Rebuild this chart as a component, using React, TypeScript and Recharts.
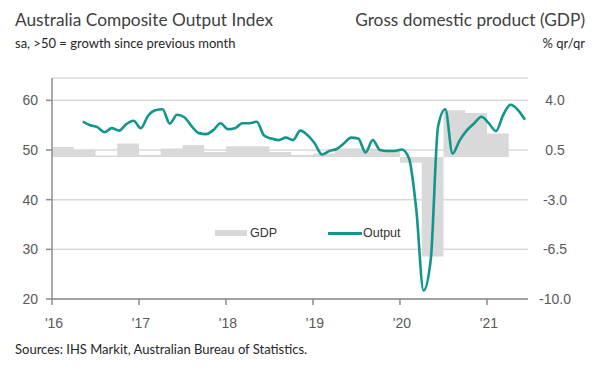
import React from 'react';
import { ComposedChart, Line, Area, XAxis, YAxis, CartesianGrid } from 'recharts';

// ---- data ----
const yearLabels = ["'16", "'17", "'18", "'19", "'20", "'21"];
const yearTickMonths = [0, 12, 24, 36, 48, 60]; // months since Jan 2016
const leftTicks = [20, 30, 40, 50, 60];
const rightTicks = [-10, -6.5, -3, 0.5, 4];

// GDP % q/q, 2016 Q1 .. 2021 Q1
const gdpQuarterly = [
  0.7, 0.5, 0.1, 0.95,
  0.15, 0.6, 0.85, 0.35,
  0.75, 0.75, 0.35, 0.15,
  0.25, 0.6, 0.6, 0.55,
  -0.4, -7.0, 3.3, 3.1,
  1.65,
];

// Composite Output Index, monthly, May 2016 .. Jun 2021
const outputStartMonth = 4;
const outputMonthly = [
  55.7, 55.0, 54.6, 53.6, 54.4, 53.9, 55.2, 55.9,
  54.4, 56.9, 58.0, 58.2, 55.3, 57.1, 56.6, 54.8, 53.4, 53.2, 54.0, 55.4,
  54.2, 54.4, 55.4, 55.4, 55.7, 52.9, 52.3, 52.0, 52.5, 52.0, 53.9, 53.0,
  51.3, 49.1, 49.8, 50.2, 51.3, 52.5, 52.3, 49.5, 52.0, 50.0, 49.8, 49.8,
  50.1, 48.3, 38.0, 21.7, 28.0, 54.7, 58.2, 49.3, 52.0, 54.0, 55.4, 56.7,
  55.4, 53.8, 57.1, 59.1, 58.1, 56.1,
];

const lastMonth = outputStartMonth + outputMonthly.length - 1;
const gdpEnd = gdpQuarterly.length * 3;

type Row = { t: number; gdp?: number; output?: number };
const rows: Row[] = [];
for (let q = 0; q <= gdpQuarterly.length; q++) {
  rows.push({ t: q * 3, gdp: gdpQuarterly[Math.min(q, gdpQuarterly.length - 1)] });
}
for (let m = 0; m <= lastMonth; m++) {
  const out = m >= outputStartMonth ? outputMonthly[m - outputStartMonth] : undefined;
  rows.push({
    t: m + 0.25,
    output: out,
    gdp: m < gdpEnd ? gdpQuarterly[Math.floor(m / 3)] : undefined,
  });
}
rows.sort((a, b) => a.t - b.t);

const TEAL = '#12958b';
const GREY_BAR = '#d9d9d9';
const AXIS = '#8c8c8c';
const LABEL = '#595959';
const TICK_FONT = 'Liberation Sans, Arial, sans-serif';
const TITLE_FONT = 'Lato, sans-serif';

const RightTick = (props: any) => {
  const { x, y, payload } = props;
  return (
    <text x={x + 20} y={y} dy="0.36em" textAnchor="middle" fill={LABEL} fontSize={14} fontFamily={TICK_FONT}>
      {Number(payload.value).toFixed(1)}
    </text>
  );
};

export default function App() {
  return (
    <div style={{ position: 'absolute', left: 0, top: 0, width: 600, height: 372, background: '#fff', overflow: 'hidden' }}>
      <div style={{ position: 'absolute', left: 15, top: 9, fontFamily: TITLE_FONT, fontSize: 17.3, color: '#404040', whiteSpace: 'nowrap' }}>
        Australia Composite Output Index
      </div>
      <div style={{ position: 'absolute', left: 15, top: 35, fontFamily: TITLE_FONT, fontSize: 13, color: '#262626', whiteSpace: 'nowrap' }}>
        sa, &gt;50 = growth since previous month
      </div>
      <div style={{ position: 'absolute', right: 15, top: 9, fontFamily: TITLE_FONT, fontSize: 17.3, color: '#404040', whiteSpace: 'nowrap' }}>
        Gross domestic product (GDP)
      </div>
      <div style={{ position: 'absolute', right: 15, top: 35, fontFamily: TITLE_FONT, fontSize: 13, color: '#262626', whiteSpace: 'nowrap' }}>
        % qr/qr
      </div>
      <div style={{ position: 'absolute', left: 15, top: 341, fontFamily: TITLE_FONT, fontSize: 13, color: '#262626', whiteSpace: 'nowrap' }}>
        Sources: IHS Markit, Australian Bureau of Statistics.
      </div>

      <div style={{ position: 'absolute', left: 0, top: 0 }}>
        <ComposedChart width={600} height={372} data={rows} margin={{ top: 78, right: 0, bottom: 43, left: 0 }}>
          <CartesianGrid yAxisId="left" vertical={false} stroke={GREY_BAR} strokeWidth={1.5} ticks={leftTicks} />
          <XAxis
            dataKey="t"
            type="number"
            domain={[0, 65.66]}
            allowDataOverflow
            ticks={yearTickMonths}
            tickFormatter={(v: number) => yearLabels[yearTickMonths.indexOf(v)] ?? ''}
            height={30}
            tickSize={6}
            tickMargin={13}
            axisLine={{ stroke: AXIS, strokeWidth: 1.5 }}
            tickLine={{ stroke: AXIS, strokeWidth: 1.5 }}
            tick={{ fill: LABEL, fontSize: 14, fontFamily: TICK_FONT, dx: 2 }}
          />
          <YAxis
            yAxisId="left"
            orientation="left"
            width={52}
            domain={[20, 64.5]}
            allowDataOverflow
            ticks={leftTicks}
            tickSize={6}
            tickMargin={8}
            axisLine={{ stroke: AXIS, strokeWidth: 1.5 }}
            tickLine={{ stroke: AXIS, strokeWidth: 1.5 }}
            tick={{ fill: LABEL, fontSize: 14, fontFamily: TICK_FONT }}
          />
          <YAxis
            yAxisId="right"
            orientation="right"
            width={72}
            domain={[-10, 5.565]}
            allowDataOverflow
            ticks={rightTicks}
            axisLine={false}
            tickLine={false}
            tickSize={0}
            tickMargin={7}
            tick={<RightTick />}
          />
          <Area
            yAxisId="right"
            dataKey="gdp"
            type="stepAfter"
            fill={GREY_BAR}
            fillOpacity={1}
            stroke="none"
            isAnimationActive={false}
          />
          <Line
            yAxisId="left"
            dataKey="output"
            type="monotone"
            stroke={TEAL}
            strokeWidth={2.6}
            dot={false}
            connectNulls
            isAnimationActive={false}
          />
        </ComposedChart>
      </div>

      {/* legend */}
      <div style={{ position: 'absolute', left: 215, top: 226, display: 'flex', alignItems: 'center', fontFamily: TICK_FONT, fontSize: 12.5, color: '#333' }}>
        <span style={{ display: 'inline-block', width: 32, height: 6, background: GREY_BAR, marginRight: 3 }} />
        <span>GDP</span>
      </div>
      <div style={{ position: 'absolute', left: 328, top: 226, display: 'flex', alignItems: 'center', fontFamily: TICK_FONT, fontSize: 12.5, color: '#333' }}>
        <span style={{ display: 'inline-block', width: 34, height: 3, background: TEAL, marginRight: 1 }} />
        <span>Output</span>
      </div>
    </div>
  );
}
